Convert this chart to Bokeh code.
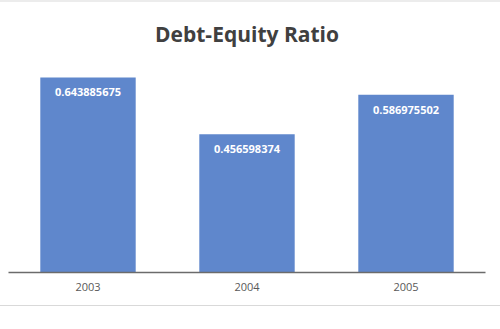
from bokeh.plotting import figure
from bokeh.models import ColumnDataSource, Range1d
from bokeh.embed import file_html
from bokeh.resources import INLINE
from bokeh.core.properties import value

title_text = "Debt-Equity Ratio"
years = ["2003", "2004", "2005"]
ratios = [0.643885675, 0.456598374, 0.586975502]
ratio_labels = [f"{v:.9f}" for v in ratios]

src = ColumnDataSource(dict(x=years, top=ratios, lab=ratio_labels))

p = figure(width=500, height=329, x_range=years, y_range=Range1d(0, 0.7),
           output_backend="svg", toolbar_location=None,
           min_border_left=8, min_border_right=15, min_border_top=60, min_border_bottom=57)
p.x_range.range_padding = 0
p.background_fill_color = "white"
p.border_fill_color = None
p.outline_line_color = None
p.grid.visible = False
p.yaxis.visible = False
p.styles = {"background": "linear-gradient(to bottom, #ececec 0px, #ececec 2px, #ffffff 2px, "
                          "#ffffff 305px, #d9d9d9 305px, #d9d9d9 306px, #ffffff 306px)"}

p.title.text = title_text
p.title.align = "center"
p.title.text_font = "Open Sans"
p.title.text_font_style = "bold"
p.title.text_font_size = "21px"
p.title.text_color = "#404040"
p.title.standoff = 26

p.vbar(x="x", top="top", bottom=0, width=0.6, source=src,
       fill_color="#5f87cc", line_color=None)

p.text(x="x", y="top", text="lab", source=src, y_offset=15,
       text_align="center", text_baseline="middle",
       text_color="white", text_font=value("Open Sans"),
       text_font_style="bold", text_font_size="11px")

ax = p.xaxis[0]
ax.axis_line_color = "#6b6b6b"
ax.axis_line_width = 1.5
ax.major_tick_line_color = None
ax.minor_tick_line_color = None
ax.major_tick_out = 0
ax.major_label_standoff = 10
ax.major_label_text_font = "Open Sans"
ax.major_label_text_font_size = "11px"
ax.major_label_text_color = "#595959"

open("out.html", "w").write(file_html(p, INLINE))
